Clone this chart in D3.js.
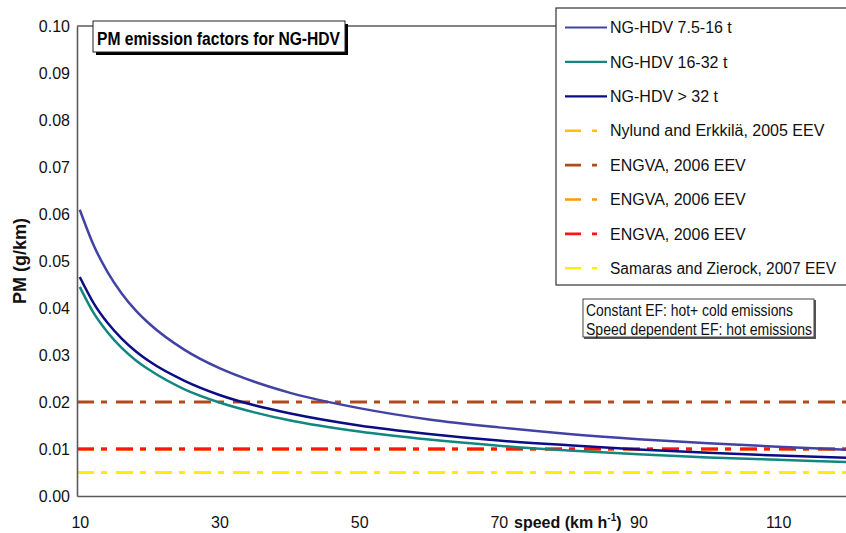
<!DOCTYPE html>
<html>
<head>
<meta charset="utf-8">
<script src="https://cdn.jsdelivr.net/npm/d3@7/dist/d3.min.js"></script>
<style>
  html, body { margin: 0; padding: 0; background: #fff; }
  svg { display: block; font-family: "Liberation Sans", Arial, Helvetica, sans-serif; }
</style>
</head>
<body>
<svg id="chart" width="846" height="533"></svg>
<script>
// ---- Data ----
const speeds = [10, 12, 14, 16, 18, 20, 25, 30, 35, 40, 50, 60, 70, 80, 90, 100, 110, 120];
const hdv_7_5_16 = [0.0609, 0.0533, 0.0476, 0.0431, 0.0395, 0.0366, 0.0311, 0.0272, 0.0243, 0.0220, 0.0187, 0.0163, 0.0146, 0.0132, 0.0121, 0.0112, 0.0105, 0.0098];
const hdv_16_32 = [0.0445, 0.0389, 0.0348, 0.0315, 0.0289, 0.0268, 0.0227, 0.0199, 0.0178, 0.0161, 0.0137, 0.0120, 0.0107, 0.0097, 0.0089, 0.0082, 0.0077, 0.0072];
const hdv_32 = [0.0466, 0.0410, 0.0368, 0.0335, 0.0308, 0.0286, 0.0245, 0.0215, 0.0193, 0.0176, 0.0150, 0.0132, 0.0118, 0.0108, 0.0099, 0.0092, 0.0086, 0.0081];

const constantNames = ["Nylund and Erkkilä, 2005 EEV", "ENGVA, 2006 EEV", "ENGVA, 2006 EEV", "ENGVA, 2006 EEV", "Samaras and Zierock, 2007 EEV"];
const constantValues = [0.010, 0.020, 0.010, 0.010, 0.005];
const constantColors = ["#ffc000", "#b04a1c", "#ff9a00", "#ff1414", "#fbee00"];

const curveNames = ["NG-HDV 7.5-16 t", "NG-HDV 16-32 t", "NG-HDV > 32 t"];
const curveColors = ["#4242a4", "#13877f", "#0c0c84"];

const xTicks = [10, 30, 50, 70, 90, 110];
const yTicks = [0.00, 0.01, 0.02, 0.03, 0.04, 0.05, 0.06, 0.07, 0.08, 0.09, 0.10];

const titleText = "PM emission factors for NG-HDV";
const noteLines = ["Constant EF: hot+ cold emissions", "Speed dependent EF: hot emissions"];

// ---- Chart ----
const svg = d3.select("#chart");
const x = d3.scaleLinear().domain([9.6, 120]).range([77, 848]);
const y = d3.scaleLinear().domain([0, 0.10]).range([496, 26]);
const axisColor = "#5a5a5a";
const dash = "17,7,6,9";

// horizontal constant lines (drawn first)
const constG = svg.append("g");
constantValues.forEach((v, i) => {
  const pts = x.domain().map(s => [s, v]);
  constG.append("path")
    .datum(pts)
    .attr("fill", "none")
    .attr("stroke", constantColors[i])
    .attr("stroke-width", 3)
    .attr("stroke-dasharray", dash)
    .attr("d", d3.line().x(d => x(d[0])).y(d => y(d[1])));
});

// curves
const curveSeries = [hdv_7_5_16, hdv_16_32, hdv_32];
const line = d3.line().x(d => x(d[0])).y(d => y(d[1])).curve(d3.curveMonotoneX);
curveSeries.forEach((vals, i) => {
  svg.append("path")
    .datum(speeds.map((s, j) => [s, vals[j]]))
    .attr("fill", "none")
    .attr("stroke", curveColors[i])
    .attr("stroke-width", 2.5)
    .attr("d", line);
});

// axes
const yAxis = d3.axisLeft(y).tickValues(yTicks).tickSize(0).tickSizeOuter(0).tickPadding(7)
  .tickFormat(d3.format(".2f"));
const gy = svg.append("g").attr("transform", "translate(77,0)").call(yAxis);
gy.select(".domain").attr("stroke", axisColor).attr("stroke-width", 1.6);
gy.selectAll("text").attr("font-size", 16).attr("fill", "#111")
  .attr("font-family", "Liberation Sans, Arial, sans-serif");

const xAxis = d3.axisBottom(x).tickValues(xTicks).tickSize(0).tickSizeOuter(0).tickPadding(21)
  .tickFormat(d3.format("d"));
const gx = svg.append("g").attr("transform", "translate(0,496)").call(xAxis);
gx.select(".domain").attr("stroke", axisColor).attr("stroke-width", 1.6);
gx.selectAll("text").attr("font-size", 16).attr("fill", "#111")
  .attr("font-family", "Liberation Sans, Arial, sans-serif");

// top border line
svg.append("line").attr("x1", 77).attr("x2", 556).attr("y1", 26).attr("y2", 26)
  .attr("stroke", axisColor).attr("stroke-width", 1.6);

// axis titles
svg.append("text")
  .attr("transform", "translate(26,261) rotate(-90)")
  .attr("text-anchor", "middle")
  .attr("font-size", 18).attr("font-weight", "bold").attr("fill", "#111")
  .text("PM (g/km)");

const xt = svg.append("text")
  .attr("x", 514).attr("y", 528)
  .attr("font-size", 16).attr("font-weight", "bold").attr("fill", "#111");
xt.append("tspan").text("speed (km h");
xt.append("tspan").attr("font-size", 10).attr("dy", -7).text("-1");
xt.append("tspan").attr("dy", 7).text(")");

// title box
svg.append("rect").attr("x", 96).attr("y", 24).attr("width", 252).attr("height", 31).attr("fill", "#000");
svg.append("rect").attr("x", 93).attr("y", 21).attr("width", 252).attr("height", 31)
  .attr("fill", "#fff").attr("stroke", "#222").attr("stroke-width", 1);
svg.append("text").attr("x", 97).attr("y", 45)
  .attr("font-size", 18).attr("font-weight", "bold").attr("fill", "#000")
  .attr("textLength", 243).attr("lengthAdjust", "spacingAndGlyphs")
  .text(titleText);

// legend box
svg.append("rect").attr("x", 556).attr("y", 8).attr("width", 300).attr("height", 277)
  .attr("fill", "#fff").attr("stroke", "#333").attr("stroke-width", 1.2);
const legendNames = curveNames.concat(constantNames);
const legendColors = curveColors.concat(constantColors);
legendNames.forEach((name, i) => {
  const cy = 27.5 + i * 34.4;
  const g = svg.append("g");
  if (i < 3) {
    g.append("line").attr("x1", 565).attr("x2", 607).attr("y1", cy).attr("y2", cy)
      .attr("stroke", legendColors[i]).attr("stroke-width", 2.2);
  } else {
    g.append("line").attr("x1", 565).attr("x2", 598).attr("y1", cy).attr("y2", cy)
      .attr("stroke", legendColors[i]).attr("stroke-width", 2.6)
      .attr("stroke-dasharray", "16,11,5,40");
  }
  g.append("text").attr("x", 610).attr("y", cy).attr("dy", "0.35em")
    .attr("font-size", 16).attr("fill", "#111")
    .attr("textLength", i === 7 ? 226 : null).attr("lengthAdjust", "spacingAndGlyphs")
    .text(name);
});

// note box
svg.append("rect").attr("x", 584).attr("y", 300).attr("width", 232).attr("height", 39)
  .attr("fill", "#555");
svg.append("rect").attr("x", 583).attr("y", 299).attr("width", 231).attr("height", 38)
  .attr("fill", "#fff").attr("stroke", "#444").attr("stroke-width", 1);
const noteWidths = [207, 226];
noteLines.forEach((t, i) => {
  svg.append("text").attr("x", 586).attr("y", 316 + i * 19)
    .attr("font-size", 16).attr("fill", "#111")
    .attr("textLength", noteWidths[i]).attr("lengthAdjust", "spacingAndGlyphs")
    .text(t);
});
</script>
</body>
</html>
